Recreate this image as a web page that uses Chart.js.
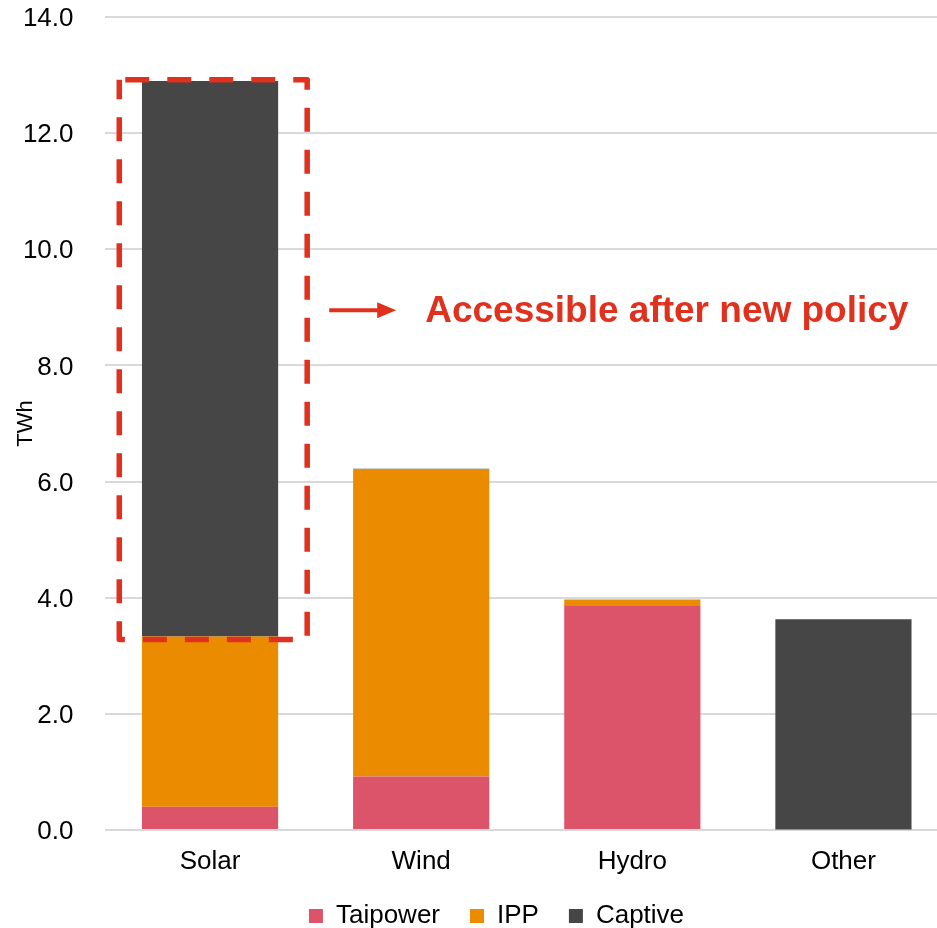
<!DOCTYPE html>
<html>
<head>
<meta charset="utf-8">
<script src="https://cdn.jsdelivr.net/npm/chart.js@4.4.1/dist/chart.umd.min.js"></script>
<style>
  html, body { margin: 0; padding: 0; background: #fff; overflow: hidden; }
  #wrap { position: relative; width: 950px; height: 928px; }
</style>
</head>
<body>
<div id="wrap"><canvas id="c" width="950" height="928"></canvas></div>
<script>
const categories = ['Solar', 'Wind', 'Hydro', 'Other'];
const taipower = [0.40, 0.92, 3.87, 0.00];
const ipp = [2.93, 5.29, 0.10, 0.01];
const captive = [9.57, 0.01, 0.00, 3.62];
const yTicks = [0, 2, 4, 6, 8, 10, 12, 14];
const annotationText = 'Accessible after new policy';
// highlight box around Solar captive (category offsets, TWh)
const boxX = [-0.43, 0.46];
const boxY = [3.28, 12.92];

const FONT = "'Liberation Sans', Arial, sans-serif";
const RED = '#E0301E';

const highlight = {
  id: 'highlight',
  afterLayout(chart) {
    const lg = chart.legend;
    if (lg) { lg.left += 22; lg.right += 22; lg.top -= 4; lg.bottom -= 4; }
  },
  afterDatasetsDraw(chart) {
    const ctx = chart.ctx;
    const x = chart.scales.x, y = chart.scales.y;
    const c0 = x.getPixelForValue(0);
    const unit = x.getPixelForValue(1) - c0;
    const l = c0 + boxX[0] * unit, r = c0 + boxX[1] * unit;
    const t = y.getPixelForValue(boxY[1]), b = y.getPixelForValue(boxY[0]);
    ctx.save();
    ctx.strokeStyle = RED;
    ctx.lineWidth = 5.5;
    ctx.setLineDash([24, 18]);
    ctx.lineDashOffset = -6;
    ctx.lineJoin = 'round';
    ctx.strokeRect(l, t, r - l, b - t);
    ctx.setLineDash([]);
    // arrow
    const ay = y.getPixelForValue(8.95);
    const ax0 = r + 22, ax1 = r + 89;
    ctx.lineWidth = 4;
    ctx.beginPath();
    ctx.moveTo(ax0, ay);
    ctx.lineTo(ax1 - 16, ay);
    ctx.stroke();
    ctx.fillStyle = RED;
    ctx.beginPath();
    ctx.moveTo(ax1, ay);
    ctx.lineTo(ax1 - 19, ay - 8);
    ctx.lineTo(ax1 - 19, ay + 8);
    ctx.closePath();
    ctx.fill();
    // text
    ctx.font = 'bold 37px ' + FONT;
    ctx.textAlign = 'left';
    ctx.textBaseline = 'middle';
    ctx.fillText(annotationText, r + 118, ay + 2);
    ctx.restore();
  }
};

new Chart(document.getElementById('c'), {
  type: 'bar',
  data: {
    labels: categories,
    datasets: [
      { label: 'Taipower', data: taipower, backgroundColor: '#DB546A' },
      { label: 'IPP', data: ipp, backgroundColor: '#EB8C00' },
      { label: 'Captive', data: captive, backgroundColor: '#464646' }
    ]
  },
  options: {
    responsive: false,
    animation: false,
    devicePixelRatio: 1,
    layout: { padding: { top: 17, right: 1, left: 0, bottom: -15 } },
    datasets: { bar: { barPercentage: 0.645, categoryPercentage: 1.0 } },
    plugins: {
      legend: {
        position: 'bottom',
        labels: {
          font: { family: FONT, size: 26 },
          color: '#000',
          boxWidth: 14, boxHeight: 14,
          padding: 30
        }
      },
      tooltip: { enabled: false }
    },
    scales: {
      x: {
        stacked: true,
        grid: { display: false, drawTicks: false },
        border: { display: false },
        ticks: { font: { family: FONT, size: 26, lineHeight: 1 }, color: '#000', padding: 19 },
        afterFit(s) { s.height = 47; }
      },
      y: {
        stacked: true,
        min: 0, max: 14,
        afterBuildTicks(s) { s.ticks = yTicks.map(v => ({ value: v })); },
        grid: { color: '#D9D9D9', lineWidth: 2, drawTicks: true, tickLength: 31, tickColor: 'rgba(0,0,0,0)' },
        border: { display: false },
        ticks: {
          font: { family: FONT, size: 26, lineHeight: 1 }, color: '#000', padding: 0, labelOffset: 2,
          callback: v => Number(v).toFixed(1)
        },
        title: { display: true, text: 'TWh', font: { family: FONT, size: 22 }, color: '#000', padding: { top: 13, bottom: 0 } },
        afterFit(s) { s.width = 104.5; }
      }
    }
  },
  plugins: [highlight]
});
</script>
</body>
</html>
